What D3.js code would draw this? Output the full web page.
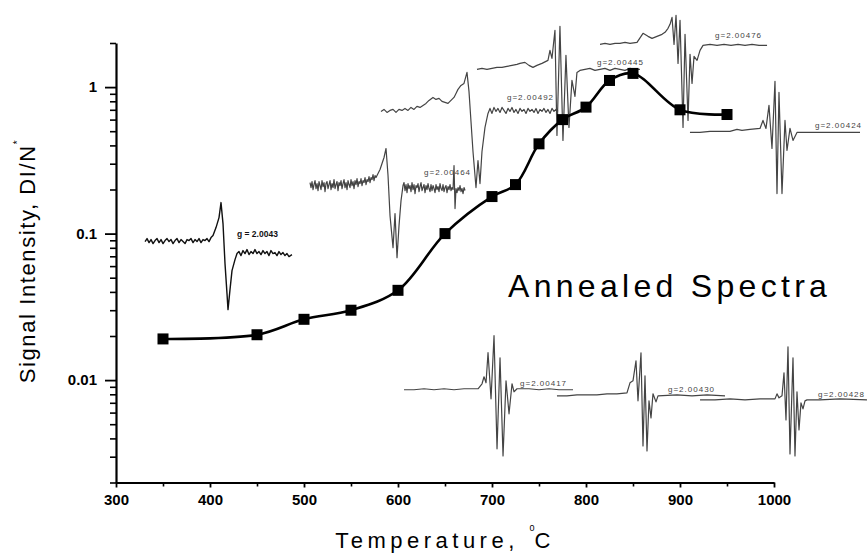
<!DOCTYPE html>
<html>
<head>
<meta charset="utf-8">
<script src="https://cdn.jsdelivr.net/npm/d3@7"></script>
<style>
  body { margin: 0; background: #fff; }
  svg { display: block; font-family: "Liberation Sans", Arial, sans-serif; }
</style>
</head>
<body>
<svg id="chart" width="868" height="556"></svg>
<script>
// Signal intensity vs annealing temperature
const temps = [350, 450, 500, 550, 600, 650, 700, 725, 750, 775, 800, 825, 850, 900, 950];
const intensity = [0.0191, 0.0204, 0.026, 0.030, 0.041, 0.100, 0.179, 0.216, 0.41, 0.60, 0.73, 1.11, 1.24, 0.70, 0.65];

const xMajor = [300, 400, 500, 600, 700, 800, 900, 1000];
const xMinor = [350, 450, 550, 650, 750, 850, 950];
const yMajor = [0.01, 0.1, 1];
const yMajorLabels = ["0.01", "0.1", "1"];

// EPR inset spectra: [field, signal] (arbitrary units)
const spec1 = [[0,0],[2,3],[4,-1],[6,2],[8,-2],[10,1],[12,3],[14,-1],[16,2],[18,-2],[20,1],[22,3],[24,0],[26,2],[28,-2],[30,1],[32,3],[34,-1],[36,2],[38,0],[40,-2],[42,2],[44,1],[46,3],[48,-1],[50,2],[52,0],[54,3],[56,-1],[58,2],[60,1],[62,3],[64,0],[66,4],[68,6],[71,14],[74,24],[76,39],[78,18],[80,-22],[82,-52],[83,-68],[85,-48],[87,-29],[90,-18],[92,-12],[94,-10],[96,-14],[98,-9],[100,-12],[102,-8],[104,-13],[106,-10],[108,-12],[110,-8],[112,-12],[114,-10],[116,-13],[118,-9],[120,-12],[122,-10],[124,-14],[126,-9],[128,-12],[130,-11],[132,-14],[134,-10],[136,-13],[138,-11],[140,-14],[142,-12],[144,-15],[147,-13]];
const spec2 = [[0,3],[1,-2],[2,4],[3,-4],[4,1],[5,5],[6,-3],[7,2],[8,-5],[9,4],[10,0],[11,-4],[12,5],[13,-1],[14,3],[15,-6],[16,2],[17,4],[18,-3],[19,1],[20,5],[21,-4],[22,2],[23,-2],[24,6],[25,-3],[26,1],[27,4],[28,-5],[29,3],[30,0],[31,5],[32,-3],[33,2],[34,6],[35,-2],[36,3],[37,-4],[38,5],[39,1],[40,-2],[41,6],[42,0],[43,4],[44,-3],[45,5],[46,1],[47,7],[48,-1],[49,4],[50,2],[51,7],[52,0],[53,5],[54,3],[55,8],[56,1],[57,6],[58,4],[59,9],[60,3],[61,8],[62,6],[63,11],[64,5],[65,10],[66,8],[68,12],[70,16],[72,22],[74,28],[76,37],[78,10],[80,-30],[83,-62],[85,-28],[87,-72],[89,-40],[91,-15],[93,0],[94,3],[95,-5],[96,1],[97,-7],[98,2],[99,-3],[100,0],[101,-6],[102,3],[103,-4],[104,1],[105,-8],[106,0],[107,-2],[108,2],[109,-6],[110,-1],[111,3],[112,-5],[113,-2],[114,1],[115,-7],[116,0],[117,-4],[118,2],[119,-3],[120,-6],[121,1],[122,-5],[123,0],[124,-3],[125,-7],[126,1],[127,-4],[128,-1],[129,-6],[130,2],[131,-3],[132,-5],[133,1],[134,-6],[135,-2],[136,0],[137,-7],[138,-1],[139,-4],[140,1],[141,-5],[142,-2],[143,-4],[144,20],[145,-23],[146,-3],[147,-7],[148,-2],[149,-5],[150,0],[151,-6],[152,-3],[153,-8],[154,-2],[155,-5]];
const spec3 = [[0,0],[3,2],[6,-1],[9,1],[12,2],[15,-1],[18,2],[21,1],[24,3],[27,1],[30,4],[33,2],[36,5],[39,4],[42,6],[45,8],[48,11],[52,14],[55,12],[58,13],[61,10],[64,9],[67,8],[70,11],[73,14],[75,18],[77,22],[80,26],[83,28],[86,39],[88,20],[90,-10],[92,-40],[95,-76],[97,-49],[99,-72],[101,-40],[104,-16],[107,-2],[109,3],[111,-2],[113,4],[115,0],[117,3],[119,-1],[121,4],[123,1],[125,-2],[127,3],[129,0],[131,4],[133,-1],[135,2],[137,-2],[139,3],[141,0],[143,2],[145,-2],[147,3],[149,0],[151,2],[153,-1],[155,3],[157,-2],[159,2],[161,0],[163,3],[165,-1],[167,2],[169,-2],[171,3],[173,0],[175,2],[177,0]];
const spec4 = [[0,0],[5,1],[10,0],[15,1],[20,2],[25,2],[30,3],[35,4],[40,5],[43,6],[48,7],[52,4],[56,2],[60,4],[65,6],[71,9],[73,19],[75,11],[78,39],[80,-66],[83,43],[86,-71],[89,14],[92,-58],[95,-11],[98,-27],[100,-3],[103,-1],[108,0],[113,1],[118,-1],[123,0],[128,1],[133,-1],[138,1],[143,0],[148,-1],[153,1],[158,0],[163,0]];
const spec5 = [[0,0],[5,1],[10,0],[15,1],[20,1],[25,2],[30,1],[37,2],[43,11],[48,8],[52,6],[57,8],[62,10],[65,12],[68,16],[70,20],[72,27],[74,0],[76,29],[78,-19],[80,24],[83,-83],[85,10],[88,-76],[90,-10],[92,-39],[94,-12],[97,-16],[100,-6],[103,-1],[110,0],[117,-1],[124,0],[131,-1],[138,0],[145,-1],[152,0],[159,-1],[167,-1]];
const spec6 = [[0,0],[10,0],[20,1],[30,1],[40,1],[47,3],[52,2],[60,3],[70,4],[73,12],[76,4],[79,27],[82,-16],[85,51],[87,-61],[89,40],[92,-61],[95,12],[97,-18],[100,4],[103,-8],[107,0],[120,0],[135,0],[150,0],[170,0]];
const spec7 = [[0,0],[10,0],[20,1],[30,0],[40,1],[50,0],[60,1],[70,1],[74,1],[78,6],[80,13],[82,7],[84,37],[87,-9],[90,54],[93,-59],[96,32],[99,-66],[102,9],[105,-24],[108,6],[110,-2],[113,1],[125,1],[135,0],[145,1],[155,0],[169,0]];
const spec8 = [[0,0],[10,0],[20,1],[30,1],[40,1],[50,2],[60,2],[70,3],[73,13],[76,15],[79,35],[81,-5],[84,43],[86,-50],[88,20],[90,-55],[92,-5],[94,-22],[96,2],[99,-6],[101,0],[120,1],[135,0],[150,1],[168,0]];
const spec9 = [[0,0],[15,0],[30,1],[45,0],[60,1],[75,1],[77,6],[79,2],[82,4],[84,27],[86,-20],[88,53],[90,-54],[93,42],[95,-56],[97,8],[99,-30],[101,-3],[103,-9],[105,-1],[107,0],[120,0],[140,1],[167,0]];

// where each inset sits on the chart (temperature span, intensity at signal 0 and 50)
const insets = [
  { spec: spec1, t0: 330.9, t1: 487.2, base: 0.0882, top: 0.1936, label: "g = 2.0043", at: [92, 5], dark: true },
  { spec: spec2, t0: 506.4, t1: 671.3, base: 0.2128, top: 0.4676, label: "g=2.00464", at: [114, 11] },
  { spec: spec3, t0: 581.9, t1: 770.2, base: 0.6823, top: 1.499, label: "g=2.00492", at: [126, 11] },
  { spec: spec4, t0: 684.0, t1: 857.4, base: 1.321, top: 2.902, label: "g=2.00445", at: [120, 4] },
  { spec: spec5, t0: 814.9, t1: 992.6, base: 1.958, top: 4.30, label: "g=2.00476", at: [115, 6] },
  { spec: spec6, t0: 910.6, t1: 1091.5, base: 0.4903, top: 1.077, label: "g=2.00424", at: [125, 4] },
  { spec: spec7, t0: 606.4, t1: 786.2, base: 0.00859, top: 0.01887, label: "g=2.00417", at: [116, 4] },
  { spec: spec8, t0: 769.1, t1: 947.9, base: 0.00781, top: 0.01716, label: "g=2.00430", at: [111, 4] },
  { spec: spec9, t0: 921.3, t1: 1098.9, base: 0.00733, top: 0.01611, label: "g=2.00428", at: [118, 3] }
];

const svg = d3.select("#chart");

const x = d3.scaleLinear().domain([300, 1000]).range([116, 774]);
const y = d3.scaleLog().domain([0.002, 2]).range([482.5, 43]);

// Inset spectra
insets.forEach(function(ins) {
  let fMax = d3.max(ins.spec, d => d[0]);
  let sx = d3.scaleLinear().domain([0, fMax]).range([x(ins.t0), x(ins.t1)]);
  let sy = d3.scaleLinear().domain([0, 50]).range([y(ins.base), y(ins.top)]);
  let line = d3.line().x(d => sx(d[0])).y(d => sy(d[1]));

  svg.append("path")
      .datum(ins.spec)
      .attr("d", line)
      .attr("fill", "none")
      .attr("stroke", ins.dark ? "#111" : "#444")
      .attr("stroke-width", ins.dark ? 1.4 : 1.2)
      .attr("stroke-linejoin", "round");

  svg.append("text")
      .attr("x", sx(ins.at[0]))
      .attr("y", sy(ins.at[1]))
      .attr("font-size", ins.dark ? 8.5 : 8)
      .attr("font-weight", ins.dark ? "bold" : "normal")
      .attr("letter-spacing", ins.dark ? 0 : 1)
      .attr("fill", ins.dark ? "#111" : "#444")
      .text(ins.label);
});

// Axes
const yBottom = y.range()[0];

svg.append("g")
    .attr("transform", `translate(0,${yBottom})`)
    .call(d3.axisBottom(x).tickValues(xMinor).tickSize(4).tickSizeOuter(0).tickFormat(""))
    .call(g => g.select(".domain").remove())
    .call(g => g.selectAll("line").attr("stroke-width", 1.6));

svg.append("g")
    .attr("transform", `translate(0,${yBottom})`)
    .call(d3.axisBottom(x).tickValues(xMajor).tickSize(5).tickSizeOuter(0).tickPadding(7).tickFormat(d3.format("d")))
    .call(g => g.select(".domain").attr("stroke-width", 2.2))
    .call(g => g.selectAll("line").attr("stroke-width", 1.8))
    .call(g => g.selectAll("text").attr("font-size", 15).attr("font-weight", "bold").attr("fill", "#000"));

const yMinor = y.ticks().filter(v => !yMajor.some(m => Math.abs(m - v) < 1e-9));

svg.append("g")
    .attr("transform", `translate(${x.range()[0]},0)`)
    .call(d3.axisLeft(y).tickValues(yMinor).tickSize(6).tickSizeOuter(0).tickFormat(""))
    .call(g => g.select(".domain").remove())
    .call(g => g.selectAll("line").attr("stroke-width", 1.6));

svg.append("g")
    .attr("transform", `translate(${x.range()[0]},0)`)
    .call(d3.axisLeft(y).tickValues(yMajor).tickSize(11).tickSizeOuter(0).tickPadding(8)
        .tickFormat((d, i) => yMajorLabels[i]))
    .call(g => g.select(".domain").attr("stroke-width", 2.2))
    .call(g => g.selectAll("line").attr("stroke-width", 1.8))
    .call(g => g.selectAll("text").attr("font-size", 15).attr("font-weight", "bold").attr("fill", "#000"));

// Fitted curve and data points
const pts = temps.map((t, i) => [t, intensity[i]]);

svg.append("path")
    .datum(pts)
    .attr("d", d3.line().x(d => x(d[0])).y(d => y(d[1])).curve(d3.curveCatmullRom.alpha(0.5)))
    .attr("fill", "none")
    .attr("stroke", "#000")
    .attr("stroke-width", 2.6);

const SQ = 11;
svg.append("g")
    .selectAll("rect")
    .data(pts)
    .enter().append("rect")
    .attr("x", d => x(d[0]) - SQ / 2)
    .attr("y", d => y(d[1]) - SQ / 2)
    .attr("width", SQ)
    .attr("height", SQ)
    .attr("fill", "#000");

// Titles
svg.append("text")
    .attr("x", 508)
    .attr("y", 297)
    .attr("font-size", 32)
    .attr("letter-spacing", 4.3)
    .text("Annealed Spectra");

let xt = svg.append("text")
    .attr("x", 445)
    .attr("y", 548)
    .attr("text-anchor", "middle")
    .attr("font-size", 22)
    .attr("letter-spacing", 4.5);
xt.append("tspan").text("Temperature, ");
xt.append("tspan").attr("font-size", 9).attr("dy", -17).attr("letter-spacing", 0).text("0");
xt.append("tspan").attr("dy", 17).text("C");

let yt = svg.append("text")
    .attr("transform", "rotate(-90)")
    .attr("x", -261)
    .attr("y", 35)
    .attr("text-anchor", "middle")
    .attr("font-size", 22)
    .attr("letter-spacing", 1.6);
yt.append("tspan").text("Signal Intensity, DI/N");
yt.append("tspan").attr("font-size", 10).attr("dy", -14).text("*");
</script>
</body>
</html>
